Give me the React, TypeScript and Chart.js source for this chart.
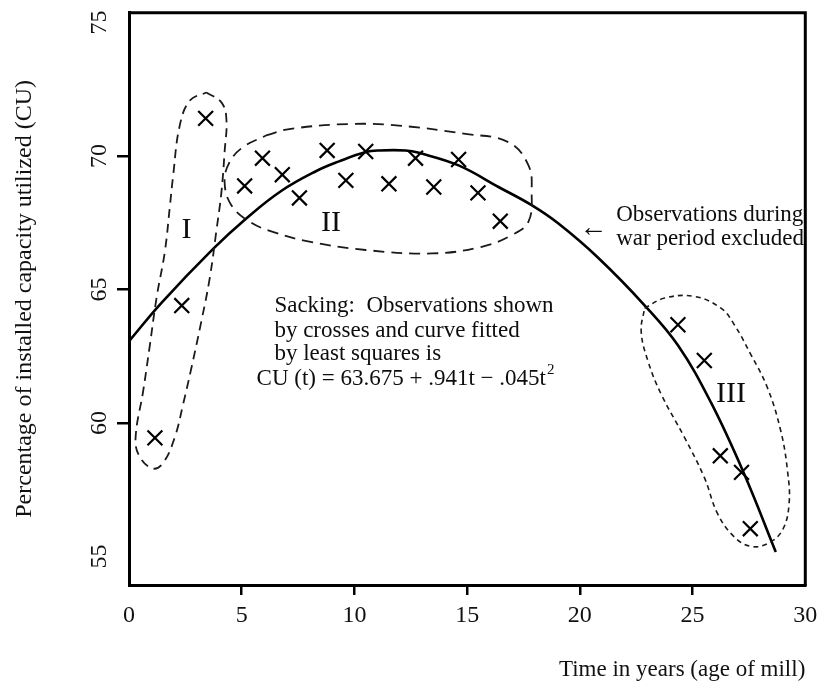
import React, { useEffect, useRef } from "react";
import { Chart, registerables } from "chart.js";

Chart.register(...registerables);

// ---- tick values ----
const xTicks = [0, 5, 10, 15, 20, 25, 30];
const yTicks = [55, 60, 65, 70, 75];
const xTickMarks = [5, 10, 15, 20, 25];
const yTickMarks = [60, 65, 70];

// ---- observations (crosses) ----
const obsT = [1.15, 2.34, 3.40, 5.13, 5.92, 6.80, 7.56, 8.79, 9.62, 10.50, 11.53, 12.71, 13.52, 14.62, 15.48, 16.47, 24.35, 25.52, 26.23, 27.17, 27.56];
const obsCU = [59.44, 64.40, 71.41, 68.88, 69.92, 69.30, 68.43, 70.21, 69.09, 70.17, 68.96, 69.92, 68.84, 69.87, 68.62, 67.56, 63.68, 62.34, 58.77, 58.15, 56.04];

// ---- fitted curve (as drawn) ----
const curveT = [0, 1.44, 3.72, 5.20, 6.75, 8.29, 9.32, 10.50, 11.09, 12.27, 12.86, 14.62, 16.39, 17.86, 19.05, 20.81, 22.87, 24.35, 25.82, 27.29, 28.69];
const curveCU = [63.06, 64.50, 66.51, 67.66, 68.69, 69.43, 69.80, 70.15, 70.21, 70.21, 70.12, 69.65, 68.84, 68.16, 67.47, 66.19, 64.41, 62.91, 60.76, 58.09, 55.17];

// ---- dashed group outlines ----
const loopIT = [3.43, 4.10, 4.32, 4.24, 4.10, 3.87, 3.58, 3.21, 2.77, 2.40, 2.03, 1.52, 1.07, 0.49, 0.29, 0.63, 0.93, 1.22, 1.59, 1.81, 1.96, 2.25, 2.70, 3.43];
const loopICU = [72.38, 72.01, 71.39, 70.15, 68.65, 67.16, 65.42, 63.81, 62.07, 60.70, 59.46, 58.51, 58.29, 58.71, 59.41, 61.20, 62.94, 64.68, 66.42, 68.09, 69.28, 71.14, 72.08, 72.38];

const loopIIT = [6.08, 7.11, 9.76, 11.97, 14.92, 16.83, 17.72, 17.86, 17.72, 16.98, 15.65, 13.44, 10.50, 8.00, 6.38, 5.35, 4.54, 4.24, 4.46, 5.05, 6.08];
const loopIICU = [70.77, 71.01, 71.20, 71.14, 70.83, 70.52, 69.65, 68.65, 67.54, 67.04, 66.60, 66.35, 66.48, 66.79, 67.16, 67.54, 68.16, 69.03, 69.77, 70.33, 70.77];

const loopIIIT = [22.87, 23.76, 25.08, 26.26, 26.85, 27.58, 28.32, 28.91, 29.21, 29.28, 28.98, 28.32, 27.58, 26.85, 26.11, 25.52, 24.64, 23.61, 23.02, 22.72, 22.87];
const loopIIICU = [64.30, 64.68, 64.74, 64.30, 63.68, 62.57, 61.32, 59.71, 58.21, 56.97, 55.98, 55.48, 55.38, 55.73, 56.60, 57.96, 59.46, 61.07, 62.32, 63.43, 64.30];

// ---- text notes (anchored in data coordinates) ----
const noteTexts = [
  "Sacking:  Observations shown",
  "by crosses and curve fitted",
  "by least squares is",
  "CU (t) = 63.675 + .941t \u2212 .045t",
  "Observations during",
  "war period excluded",
  "\u2190",
  "I",
  "II",
  "III",
];
const noteT = [6.45, 6.45, 6.45, 5.66, 21.61, 21.61, 20.59, 2.55, 8.96, 26.70];
const noteCU = [64.37, 63.43, 62.58, 61.64, 67.80, 66.90, 67.27, 67.23, 67.47, 61.07];
const noteAlign: CanvasTextAlign[] = ["left", "left", "left", "left", "left", "left", "center", "center", "center", "center"];
const noteSize = [23, 23, 23, 23, 23, 23, 28, 30, 30, 30];

const SERIF = "'Liberation Serif', 'Times New Roman', serif";

const zip = (xs: number[], ys: number[]) => xs.map((x, i) => ({ x, y: ys[i] }));

const overlay = {
  id: "overlay",
  afterDraw(chart: any) {
    const { ctx, chartArea: a, scales } = chart;
    const xs = scales.x;
    const ys = scales.y;
    ctx.save();
    // top and right frame
    ctx.strokeStyle = "#000";
    ctx.lineWidth = 3;
    ctx.beginPath();
    ctx.moveTo(a.left - 1, a.top);
    ctx.lineTo(a.right, a.top);
    ctx.lineTo(a.right, a.bottom + 1);
    ctx.stroke();
    // notes
    ctx.fillStyle = "#0d0d0d";
    ctx.textBaseline = "middle";
    noteTexts.forEach((txt, i) => {
      const px = xs.getPixelForValue(noteT[i]);
      const py = ys.getPixelForValue(noteCU[i]);
      ctx.font = `${noteSize[i]}px ${SERIF}, 'DejaVu Sans'`;
      ctx.textAlign = noteAlign[i];
      ctx.fillText(txt, px, py);
      if (i === 3) {
        const w = ctx.measureText(txt).width;
        ctx.font = `15px ${SERIF}`;
        ctx.textAlign = "left";
        ctx.fillText("2", px + w + 1, py - 9);
      }
    });
    ctx.restore();
  },
};

export default function App() {
  const ref = useRef<HTMLCanvasElement | null>(null);

  useEffect(() => {
    if (!ref.current) return;
    const chart = new Chart(ref.current, {
      type: "scatter",
      data: {
        datasets: [
          {
            label: "Group I",
            data: zip(loopIT, loopICU),
            showLine: true,
            borderColor: "#1a1a1a",
            borderWidth: 1.8,
            borderDash: [9, 6],
            pointRadius: 0,
            tension: 0.4,
            fill: false,
          },
          {
            label: "Group II",
            data: zip(loopIIT, loopIICU),
            showLine: true,
            borderColor: "#1a1a1a",
            borderWidth: 1.8,
            borderDash: [11, 7],
            pointRadius: 0,
            tension: 0.4,
            fill: false,
          },
          {
            label: "Group III",
            data: zip(loopIIIT, loopIIICU),
            showLine: true,
            borderColor: "#1a1a1a",
            borderWidth: 1.6,
            borderDash: [5, 4],
            pointRadius: 0,
            tension: 0.4,
            fill: false,
          },
          {
            label: "Fitted curve",
            data: zip(curveT, curveCU),
            showLine: true,
            borderColor: "#000",
            borderWidth: 2.6,
            pointRadius: 0,
            tension: 0.4,
            fill: false,
          },
          {
            label: "Observations",
            data: zip(obsT, obsCU),
            showLine: false,
            pointStyle: "crossRot",
            pointRadius: 10.5,
            borderColor: "#000",
            borderWidth: 2.2,
          },
        ],
      } as any,
      options: {
        responsive: false,
        animation: false,
        devicePixelRatio: 1,
        events: [],
        layout: { padding: { left: 0, top: 10, right: 10, bottom: 0 } },
        plugins: { legend: { display: false }, tooltip: { enabled: false } },
        scales: {
          x: {
            type: "linear",
            min: 0,
            max: 30,
            afterBuildTicks: (s: any) => {
              s.ticks = xTicks.map((v) => ({ value: v }));
            },
            afterFit: (s: any) => {
              s.height = 100;
              s.paddingLeft = 0;
              s.paddingRight = 0;
            },
            ticks: {
              autoSkip: false,
              maxRotation: 0,
              padding: 6,
              color: "#111",
              font: { family: SERIF, size: 24 },
            },
            grid: {
              drawOnChartArea: false,
              drawTicks: true,
              tickLength: 10,
              lineWidth: 2.5,
              color: (c: any) => (c.tick && xTickMarks.includes(c.tick.value) ? "#000" : "rgba(0,0,0,0)"),
            },
            border: { display: true, color: "#000", width: 3 },
            title: {
              display: true,
              text: "Time in years (age of mill)",
              align: "end",
              color: "#111",
              font: { family: SERIF, size: 23 },
              padding: { top: 0, bottom: 1 },
            },
          },
          y: {
            type: "linear",
            min: 53.93,
            max: 75.37,
            afterBuildTicks: (s: any) => {
              s.ticks = yTicks.map((v) => ({ value: v }));
            },
            afterFit: (s: any) => {
              s.width = 129;
              s.paddingTop = 0;
              s.paddingBottom = 0;
            },
            ticks: {
              autoSkip: false,
              minRotation: 90,
              maxRotation: 90,
              crossAlign: "center",
              padding: 5,
              color: "#111",
              font: { family: SERIF, size: 24 },
            },
            grid: {
              drawOnChartArea: false,
              drawTicks: true,
              tickLength: 12,
              lineWidth: 2.5,
              color: (c: any) => (c.tick && yTickMarks.includes(c.tick.value) ? "#000" : "rgba(0,0,0,0)"),
            },
            border: { display: true, color: "#000", width: 3 },
            title: {
              display: true,
              text: "Percentage of installed capacity utilized (CU)",
              color: "#111",
              font: { family: SERIF, size: 24 },
              padding: { top: 10, bottom: 0 },
            },
          },
        },
      } as any,
      plugins: [overlay],
    });
    return () => chart.destroy();
  }, []);

  return (
    <div style={{ position: "fixed", left: 0, top: 0, width: 818, height: 685, background: "#fff" }}>
      <canvas ref={ref} width={818} height={685} style={{ display: "block", width: 818, height: 685 }} />
    </div>
  );
}
